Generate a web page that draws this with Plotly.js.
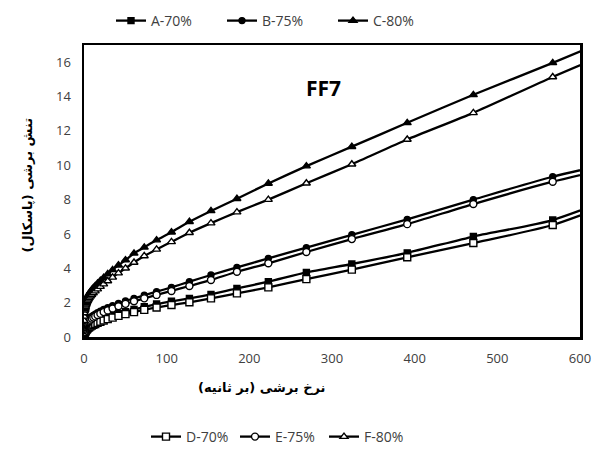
<!DOCTYPE html>
<html>
<head>
<meta charset="utf-8">
<script src="https://cdn.plot.ly/plotly-3.0.1.min.js"></script>
<style>html,body{margin:0;padding:0;background:#fff;}#chart{width:593px;height:450px;}</style>
</head>
<body>
<div id="chart"></div>
<script>
// Shear rate (1/s)
var shearRate = [0.1, 0.3, 0.6, 1.0, 1.21, 1.46, 1.75, 2.11, 2.55, 3.07, 3.7, 4.45, 5.36, 6.46, 7.79, 9.38, 11.3, 13.6, 16.4, 19.8, 23.8, 28.7, 34.6, 41.7, 50.2, 60.5, 72.9, 87.8, 105.8, 127.5, 153.6, 185, 223, 269, 324, 391, 471, 567, 683];

var seriesA = [0.14, 0.2, 0.26, 0.31, 0.33, 0.36, 0.39, 0.42, 0.45, 0.48, 0.52, 0.56, 0.6, 0.64, 0.69, 0.74, 0.79, 0.85, 0.91, 0.98, 1.06, 1.15, 1.25, 1.36, 1.47, 1.6, 1.76, 1.92, 2.08, 2.25, 2.48, 2.83, 3.22, 3.76, 4.25, 4.9, 5.85, 6.81, 8.9];
var seriesB = [0.35, 0.45, 0.54, 0.62, 0.66, 0.7, 0.74, 0.78, 0.82, 0.87, 0.92, 0.97, 1.02, 1.07, 1.13, 1.19, 1.26, 1.33, 1.41, 1.5, 1.6, 1.7, 1.82, 1.95, 2.1, 2.25, 2.43, 2.64, 2.89, 3.22, 3.61, 4.05, 4.58, 5.2, 5.95, 6.85, 8.0, 9.33, 10.6];
var seriesC = [1.1, 1.35, 1.55, 1.72, 1.8, 1.88, 1.96, 2.04, 2.12, 2.2, 2.28, 2.36, 2.45, 2.54, 2.64, 2.74, 2.86, 2.98, 3.12, 3.28, 3.46, 3.67, 3.91, 4.18, 4.48, 4.87, 5.22, 5.64, 6.1, 6.71, 7.34, 8.05, 8.94, 9.95, 11.08, 12.47, 14.1, 15.96, 18.3];
var seriesD = [0.11, 0.17, 0.22, 0.27, 0.29, 0.32, 0.34, 0.37, 0.4, 0.43, 0.47, 0.5, 0.54, 0.58, 0.62, 0.66, 0.71, 0.76, 0.82, 0.89, 0.96, 1.04, 1.13, 1.23, 1.33, 1.45, 1.58, 1.72, 1.86, 2.02, 2.25, 2.54, 2.89, 3.37, 3.92, 4.64, 5.47, 6.52, 8.6];
var seriesE = [0.3, 0.4, 0.48, 0.55, 0.59, 0.62, 0.66, 0.7, 0.74, 0.78, 0.82, 0.86, 0.91, 0.96, 1.01, 1.07, 1.13, 1.2, 1.28, 1.36, 1.45, 1.55, 1.66, 1.79, 1.93, 2.08, 2.25, 2.45, 2.68, 2.97, 3.32, 3.8, 4.29, 4.95, 5.7, 6.57, 7.74, 9.04, 10.35];
var seriesF = [0.95, 1.2, 1.4, 1.56, 1.63, 1.7, 1.77, 1.84, 1.91, 1.98, 2.05, 2.12, 2.2, 2.28, 2.37, 2.46, 2.56, 2.67, 2.79, 2.93, 3.08, 3.26, 3.47, 3.72, 4.0, 4.34, 4.72, 5.1, 5.54, 6.07, 6.63, 7.27, 8.0, 8.95, 10.06, 11.5, 13.05, 15.14, 17.5];

var seriesNames = ['A-70%', 'B-75%', 'C-80%', 'D-70%', 'E-75%', 'F-80%'];
var seriesData = [seriesA, seriesB, seriesC, seriesD, seriesE, seriesF];
var symbols = ['square', 'circle', 'triangle-up', 'square', 'circle', 'triangle-up'];
var sizes = [6, 6, 7, 7, 7, 7];
var fills = ['#000', '#000', '#000', '#fff', '#fff', '#fff'];
var legends = ['legend', 'legend', 'legend', 'legend2', 'legend2', 'legend2'];

var traces = seriesData.map(function (ys, i) {
  return {
    x: shearRate, y: ys, name: seriesNames[i], type: 'scatter', mode: 'lines+markers',
    line: {color: '#000', width: 2.3, shape: 'spline', smoothing: 0.6},
    marker: {symbol: symbols[i], size: sizes[i], color: fills[i], line: {color: '#000', width: 1.4}},
    legend: legends[i], cliponaxis: true
  };
});

var tickFont = {family: 'Open Sans, DejaVu Sans, sans-serif', size: 13, color: '#404040'};
var legFont = {family: 'Open Sans, sans-serif', size: 14, color: '#404040'};

var layout = {
  width: 593, height: 450,
  margin: {l: 84, r: 13, t: 45, b: 113, autoexpand: false},
  paper_bgcolor: '#fff', plot_bgcolor: '#fff',
  showlegend: true,
  xaxis: {range: [0, 600], dtick: 100, tick0: 0, showgrid: false, zeroline: false,
          showline: true, mirror: true, linecolor: '#000', linewidth: 2.5,
          ticks: '', tickfont: tickFont, ticklabelstandoff: 8},
  yaxis: {range: [0, 17], dtick: 2, tick0: 0, showgrid: false, zeroline: false,
          showline: true, mirror: true, linecolor: '#000', linewidth: 2.5,
          ticks: '', tickfont: tickFont, ticklabelstandoff: 8},
  legend: {orientation: 'h', x: (111 - 84) / 496, xanchor: 'left', y: (337 - 21) / 292, yanchor: 'middle',
           font: legFont, bgcolor: 'rgba(0,0,0,0)', entrywidth: 66, itemwidth: 30},
  legend2: {orientation: 'h', x: (146 - 84) / 496, xanchor: 'left', y: (337 - 437) / 292, yanchor: 'middle',
            font: legFont, bgcolor: 'rgba(0,0,0,0)', entrywidth: 44, itemwidth: 30},
  annotations: [
    {text: '<b>FF7</b>', xref: 'paper', yref: 'paper', x: (323 - 84) / 496, y: (337 - 72) / 292,
     showarrow: false, font: {family: 'Open Sans, DejaVu Sans, sans-serif', size: 21, color: '#000'}},
    {text: '<b>نرخ برشی (بر ثانیه)</b>', xref: 'paper', yref: 'paper', x: (262 - 84) / 496, y: (337 - 397) / 292,
     showarrow: false, font: {family: 'DejaVu Sans, sans-serif', size: 13, color: '#000'}},
    {text: '<b>تنش برشی (پاسکال)</b>', xref: 'paper', yref: 'paper', x: (17 - 84) / 496, y: (337 - 185) / 292,
     textangle: -90, showarrow: false, font: {family: 'DejaVu Sans, sans-serif', size: 13, color: '#000'}}
  ]
};

Plotly.newPlot('chart', traces, layout, {displayModeBar: false, staticPlot: true});
</script>
</body>
</html>
